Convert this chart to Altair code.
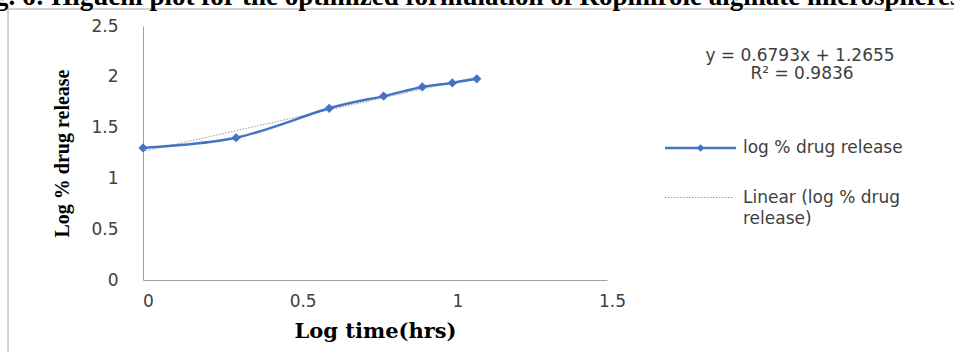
import altair as alt
import pandas as pd

# Higuchi data: log time (hrs) vs log % drug release
log_time = [0.0, 0.301, 0.602, 0.778, 0.903, 1.0, 1.079]
log_release = [1.30, 1.40, 1.69, 1.81, 1.90, 1.94, 1.98]

# Linear trendline as stated on the chart
SLOPE = 0.6793
INTERCEPT = 1.2655
R_SQUARED = 0.9836

x_ticks = [0, 0.5, 1, 1.5]
y_ticks = [0, 0.5, 1, 1.5, 2, 2.5]

SERIES = "log % drug release"
TREND_LINES = ["Linear (log % drug", "release)"]
FIG_TITLE = "Fig. 6: Higuchi plot for the optimized formulation of Ropinirole alginate microspheres"
X_TITLE = "Log time(hrs)"
Y_TITLE = "Log % drug release"

BLUE = "#4472C4"
AXIS_GREY = "#a0a0a0"
LABEL_GREY = "#404040"
SANS = "DejaVu Sans"
SANS_SIZE = 17

PLOT_W, PLOT_H = 464, 254

df = pd.DataFrame({"t": log_time, "r": log_release})
one_row = alt.Data(values=[{}])

x_enc = alt.X(
    "t:Q",
    scale=alt.Scale(domain=[0, 1.5], nice=False, zero=False),
    axis=alt.Axis(
        values=x_ticks, format="~g", title=X_TITLE,
        domainColor=AXIS_GREY, domainWidth=1, ticks=False, tickSize=0, grid=False,
        labelFont=SANS, labelFontSize=SANS_SIZE, labelColor=LABEL_GREY, labelPadding=13,
        labelFlush=False, labelOffset=5,
        titleFont="DejaVu Serif", titleFontWeight="bold", titleFontSize=21, titleColor="black",
        titleX=PLOT_W / 2, titleY=57, titleAlign="center", titleBaseline="alphabetic",
    ),
)
y_enc = alt.Y(
    "value:Q",
    scale=alt.Scale(domain=[0, 2.5], nice=False, zero=False),
    axis=alt.Axis(
        values=y_ticks, format="~g", title=Y_TITLE,
        domainColor=AXIS_GREY, domainWidth=1, ticks=False, tickSize=0, grid=False,
        labelFont=SANS, labelFontSize=SANS_SIZE, labelColor=LABEL_GREY, labelPadding=25,
        labelFlush=False,
        titleFont="Liberation Serif", titleFontWeight="bold", titleFontSize=20, titleColor="black",
        titleAngle=270, titleX=-75, titleY=PLOT_H / 2, titleAlign="center",
        titleBaseline="alphabetic",
    ),
)

base = alt.Chart(df)

# dotted linear fit across the measured time range
trend = base.transform_calculate(
    value=f"{SLOPE} * datum.t + {INTERCEPT}"
).mark_line(color="#999999", strokeWidth=1, strokeDash=[1.5, 1.5]).encode(x=x_enc, y=y_enc)

# smoothed release curve with diamond markers
curve = base.transform_calculate(value="datum.r").mark_line(
    color=BLUE, strokeWidth=2.5, interpolate="cardinal"
).encode(x=x_enc, y=y_enc)
markers = base.transform_calculate(value="datum.r").mark_point(
    shape="diamond", filled=True, color=BLUE, size=85, opacity=1
).encode(x=x_enc, y=y_enc)

# chart frame
frame = alt.Chart(one_row).mark_rect(
    fill=None, stroke="#a6a6a6", strokeWidth=1
).encode(
    x=alt.value(-135), x2=alt.value(PLOT_W + 360),
    y=alt.value(-17), y2=alt.value(PLOT_H + 90),
)

# figure caption
caption = alt.Chart(one_row).mark_text(
    text=FIG_TITLE, font="Liberation Serif", fontWeight="bold", fontSize=27,
    align="left", baseline="alphabetic", color="black",
).encode(x=alt.value(-172), y=alt.value(-21))

# trendline equation
equation = alt.Chart(one_row).mark_text(
    font=SANS, fontSize=SANS_SIZE, align="center", baseline="middle", color=LABEL_GREY,
).encode(
    x=alt.value(657),
    y=alt.value(30),
    text=alt.value(f"y = {SLOPE}x + {INTERCEPT}"),
)
r2_text = alt.Chart(one_row).mark_text(
    font=SANS, fontSize=SANS_SIZE, align="center", baseline="middle", color=LABEL_GREY,
).encode(
    x=alt.value(659),
    y=alt.value(48),
    text=alt.value(f"R\u00b2 = {R_SQUARED}"),
)

# legend
leg_line = alt.Chart(one_row).mark_rule(color=BLUE, strokeWidth=2.5).encode(
    x=alt.value(522), x2=alt.value(593), y=alt.value(122)
)
leg_marker = alt.Chart(one_row).mark_point(
    shape="diamond", filled=True, color=BLUE, size=55, opacity=1
).encode(x=alt.value(557.5), y=alt.value(122))
leg_label = alt.Chart(one_row).mark_text(
    text=SERIES, font=SANS, fontSize=SANS_SIZE, align="left", baseline="middle",
    color=LABEL_GREY,
).encode(x=alt.value(600), y=alt.value(122))
leg_trend = alt.Chart(one_row).mark_rule(
    color="#999999", strokeWidth=1, strokeDash=[1.5, 1.5]
).encode(x=alt.value(522), x2=alt.value(591), y=alt.value(171.5))
leg_trend_label = alt.Chart(one_row).mark_text(
    text=TREND_LINES, font=SANS, fontSize=SANS_SIZE, lineHeight=21, align="left",
    baseline="middle", color=LABEL_GREY,
).encode(x=alt.value(600), y=alt.value(172))

chart = alt.layer(
    frame, trend, curve, markers, caption, equation, r2_text,
    leg_line, leg_marker, leg_label, leg_trend, leg_trend_label,
).properties(
    width=PLOT_W, height=PLOT_H,
    padding={"left": 143, "top": 26, "right": 347, "bottom": 72},
    autosize=alt.AutoSizeParams(type="none"),
    background="white",
).configure_view(stroke=None)

chart.save("out.html", embed_options={"renderer": "svg", "actions": False})
